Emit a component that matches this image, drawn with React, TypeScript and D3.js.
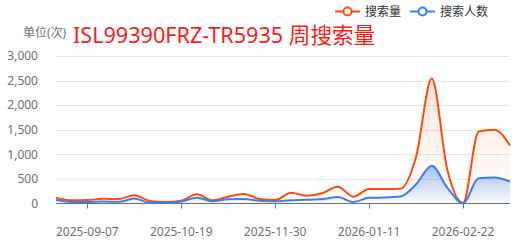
import React from "react";
import * as d3 from "d3";

const weeks: string[] = [
  "2025-08-24", "2025-08-31", "2025-09-07", "2025-09-14", "2025-09-21", "2025-09-28",
  "2025-10-05", "2025-10-12", "2025-10-19", "2025-10-26", "2025-11-02", "2025-11-09",
  "2025-11-16", "2025-11-23", "2025-11-30", "2025-12-07", "2025-12-14", "2025-12-21",
  "2025-12-28", "2026-01-04", "2026-01-11", "2026-01-18", "2026-01-25", "2026-02-01",
  "2026-02-08", "2026-02-15", "2026-02-22", "2026-03-01", "2026-03-08", "2026-03-15",
];

const searchVolume: number[] = [
  118, 65, 70, 98, 90, 167, 50, 28, 57, 188, 65, 139, 194, 92, 70,
  220, 160, 208, 343, 139, 295, 295, 300, 950, 2540, 680, 10, 1465, 1500, 1180,
];

const searchUsers: number[] = [
  70, 30, 30, 40, 35, 100, 15, 15, 40, 118, 45, 86, 90, 58, 45,
  65, 75, 90, 130, 31, 115, 120, 140, 390, 770, 320, 5, 514, 527, 445,
];

const yTicks: number[] = [0, 500, 1000, 1500, 2000, 2500, 3000];
const xLabelWeeks: string[] = ["2025-09-07", "2025-10-19", "2025-11-30", "2026-01-11", "2026-02-22"];

const title = "ISL99390FRZ-TR5935 周搜索量";
const unitLabel = "单位(次)";
const seriesNames = ["搜索量", "搜索人数"];

const W = 518;
const H = 245;
const FONT = "'Noto Sans', 'Noto Sans CJK SC', sans-serif";
const ORANGE = "#ff4b0c";
const BLUE = "#3a7ef5";

export default function App() {
  const x = d3.scalePoint<string>().domain(weeks).range([56, 510]);
  const y = d3.scaleLinear().domain([0, 3000]).range([203.5, 56]);

  const line = d3
    .line<number>()
    .x((_, i) => x(weeks[i]) as number)
    .y((d) => y(d))
    .curve(d3.curveMonotoneX);
  const area = d3
    .area<number>()
    .x((_, i) => x(weeks[i]) as number)
    .y0(y(0))
    .y1((d) => y(d))
    .curve(d3.curveMonotoneX);

  const fmt = d3.format(",");

  return (
    <svg
      width={W}
      height={H}
      style={{ position: "absolute", left: 0, top: 0, background: "#fff" }}
      fontFamily={FONT}
    >
      <defs>
        <linearGradient id="gOrange" x1="0" y1="0" x2="0" y2="1">
          <stop offset="0%" stopColor="#ff7a30" stopOpacity={0.18} />
          <stop offset="100%" stopColor="#ff7a30" stopOpacity={0.01} />
        </linearGradient>
        <linearGradient id="gBlue" x1="0" y1="0" x2="0" y2="1">
          <stop offset="0%" stopColor="#3a7ef5" stopOpacity={0.45} />
          <stop offset="100%" stopColor="#3a7ef5" stopOpacity={0.02} />
        </linearGradient>
      </defs>

      {/* grid */}
      {yTicks.map((t) => (
        <g key={t}>
          {t !== 0 && (
            <line x1={56} x2={510} y1={Math.round(y(t)) + 0.5} y2={Math.round(y(t)) + 0.5} stroke="#e0e6f1" strokeWidth={1} />
          )}
          <text x={38} y={y(t)} dy="0.35em" textAnchor="end" fontSize={12} fill="#6e7079">
            {fmt(t)}
          </text>
        </g>
      ))}

      {/* areas */}
      <path d={area(searchVolume) || ""} fill="url(#gOrange)" />
      <path d={area(searchUsers) || ""} fill="url(#gBlue)" />

      {/* axis */}
      <line x1={56} x2={510} y1={203.5} y2={203.5} stroke="#6e7079" strokeWidth={1} />
      {xLabelWeeks.map((w) => {
        const px = Math.round(x(w) as number) + 0.5;
        return (
          <g key={w}>
            <line x1={px} x2={px} y1={203.5} y2={208.5} stroke="#6e7079" strokeWidth={1} />
            <text x={x(w)} y={232} dy="0.35em" textAnchor="middle" fontSize={12} fill="#6e7079">
              {w}
            </text>
          </g>
        );
      })}

      {/* lines */}
      <path d={line(searchVolume) || ""} fill="none" stroke={ORANGE} strokeWidth={2} strokeLinejoin="round" />
      <path d={line(searchUsers) || ""} fill="none" stroke={BLUE} strokeWidth={2} strokeLinejoin="round" />

      {/* title */}
      <text x={23} y={33} dy="0.35em" fontSize={12} fill="#6e7079">
        {unitLabel}
      </text>
      <text x={73} y={43} fontSize={21.6} fill="#ff1a1a">
        {title}
      </text>

      {/* legend */}
      {[
        { name: seriesNames[0], color: ORANGE, x0: 335, tx: 365 },
        { name: seriesNames[1], color: BLUE, x0: 410, tx: 440 },
      ].map((l) => (
        <g key={l.name}>
          <line x1={l.x0} x2={l.x0 + 25} y1={11.5} y2={11.5} stroke={l.color} strokeWidth={2} />
          <circle cx={l.x0 + 12.5} cy={11.5} r={4} fill="#fff" stroke={l.color} strokeWidth={2} />
          <text x={l.tx} y={11.5} dy="0.35em" fontSize={12} fill="#333">
            {l.name}
          </text>
        </g>
      ))}
    </svg>
  );
}
